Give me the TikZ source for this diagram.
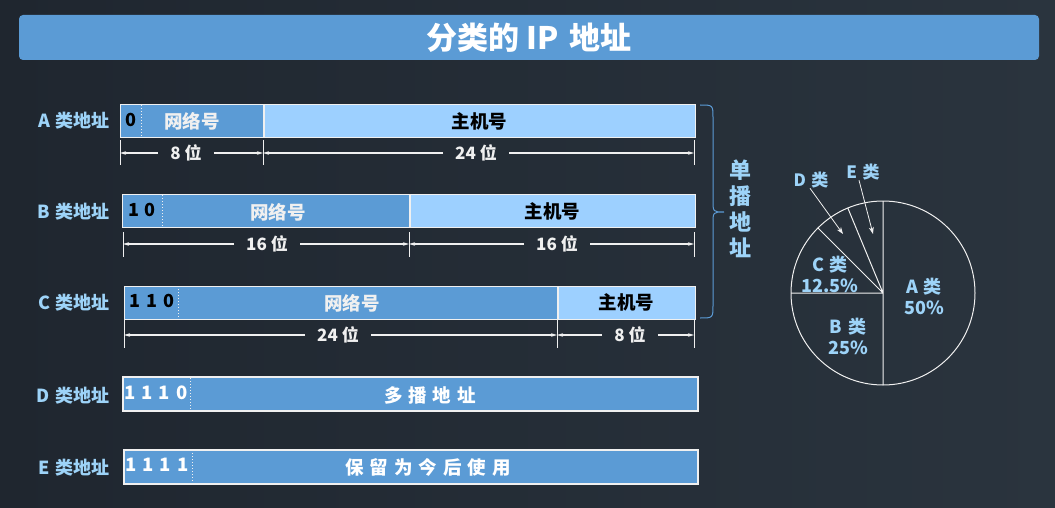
\documentclass[tikz,border=0pt]{standalone}
\usepackage{fontspec}
\setmainfont{Noto Sans CJK SC}
\usepackage{xcolor}
\usepackage{tikz}
\usetikzlibrary{arrows.meta,positioning,calc}
\definecolor{bgL}{HTML}{1F262F}
\definecolor{bgR}{HTML}{2A343E}
\definecolor{barM}{HTML}{5B9BD5}
\definecolor{barL}{HTML}{9DD0FF}
\definecolor{labB}{HTML}{9DD3F8}
\definecolor{inkW}{HTML}{F0F0F0}
\newcommand{\gap}{\hspace{0.32em}}
\tikzset{
  titlebar/.style={fill=barM, rounded corners=4pt, minimum width=1020,
                   minimum height=45, text=white, inner sep=0pt,
                   font=\bfseries\fontsize{31}{33}\selectfont},
  rowlab/.style={font=\bfseries\fontsize{18}{20}\selectfont, text=labB,
                 anchor=east, inner sep=0pt},
  netbox/.style={draw=inkW, line width=0.8pt, fill=barM, minimum height=33,
                 anchor=west, inner sep=0pt},
  hostbox/.style={netbox, fill=barL, text=black,
                  font=\bfseries\fontsize{18.5}{20}\selectfont},
  multbox/.style={netbox, line width=2pt, minimum height=34, text=white},
  nettext/.style={font=\bfseries\fontsize{18.5}{20}\selectfont, text=inkW,
                  inner sep=0pt},
  bitlab/.style={font=\bfseries\fontsize{18}{20}\selectfont, text=black,
                 inner sep=0pt},
  sep/.style={inkW, dotted, line width=1pt},
  tick/.style={inkW, line width=0.8pt},
  dim/.style={-{Stealth[length=6pt, width=3.5pt]}, inkW, line width=1.2pt},
  dimlab/.style={font=\bfseries\fontsize{17}{18}\selectfont, text=inkW,
                 inner xsep=12pt, inner ysep=0pt},
  pieline/.style={inkW, line width=1pt},
  pielab/.style={font=\bfseries\fontsize{18}{21}\selectfont, text=labB,
                 align=center, inner sep=0pt},
  pointer/.style={-{Stealth[length=7pt, width=5pt]}, inkW, line width=0.8pt},
}

\begin{document}
\begin{tikzpicture}[x=1pt, y=-1pt, node distance=0pt]
  % background
  \fill[left color=bgL, right color=bgR] (0,0) rectangle (1055,508);
  \useasboundingbox (0,0) rectangle (1055,508);
  \node[titlebar] (title) at (529,37.5) {分类的 IP\gap 地址};

  % class A
  \node[rowlab] (alab) at (110,121) {A\gap 类地址};
  \node[netbox, minimum width=143] (anet) at (120,121) {};
  \node[hostbox, right=of anet, minimum width=431] (ahost) {主机号};
  \node[bitlab] (abit) at (131,120) {0};
  \node[nettext] (atxt) at (192,121) {网络号};
  \draw[sep] (141,105) -- (141,137);
  \draw[tick] (120,140) -- (120,165) (263,140) -- (263,165) (694,140) -- (694,165);
  \coordinate (a0) at (120,153);
  \coordinate (a1) at (263,153);
  \coordinate (a2) at (694,153);
  \node[dimlab] (adl) at (186,153) {8 位};
  \node[dimlab] (adr) at (476,153) {24 位};
  \draw[dim] (adl.west) -- (a0);
  \draw[dim] (adl.east) -- (a1);
  \draw[dim] (adr.west) -- (a1);
  \draw[dim] (adr.east) -- (a2);

  % class B
  \node[rowlab] (blab) at (110,212) {B\gap 类地址};
  \node[netbox, minimum width=287] (bnet) at (122,211) {};
  \node[hostbox, right=of bnet, minimum width=285] (bhost) {主机号};
  \node[bitlab] (bbit) at (142,210) {1\gap 0};
  \node[nettext] (btxt) at (278,212) {网络号};
  \draw[sep] (162,195) -- (162,227);
  \draw[tick] (123,232) -- (123,257) (409,232) -- (409,257) (694,232) -- (694,257);
  \coordinate (b0) at (123,244);
  \coordinate (b1) at (409,244);
  \coordinate (b2) at (694,244);
  \node[dimlab] (bdl) at (267,244) {16 位};
  \node[dimlab] (bdr) at (557,244) {16 位};
  \draw[dim] (bdl.west) -- (b0);
  \draw[dim] (bdl.east) -- (b1);
  \draw[dim] (bdr.west) -- (b1);
  \draw[dim] (bdr.east) -- (b2);

  % class C
  \node[rowlab] (clab) at (110,303) {C\gap 类地址};
  \node[netbox, minimum width=433] (cnet) at (124,302.5) {};
  \node[hostbox, right=of cnet, minimum width=137] (chost) {主机号};
  \node[bitlab] (cbit) at (152,301) {1\gap 1\gap 0};
  \node[nettext] (ctxt) at (352,303) {网络号};
  \draw[sep] (178,286) -- (178,319);
  \draw[tick] (124,320) -- (124,348) (557,320) -- (557,348) (694,320) -- (694,348);
  \coordinate (c0) at (124,335);
  \coordinate (c1) at (557,335);
  \coordinate (c2) at (694,335);
  \node[dimlab] (cdl) at (338,335) {24 位};
  \node[dimlab] (cdr) at (630,335) {8 位};
  \draw[dim] (cdl.west) -- (c0);
  \draw[dim] (cdl.east) -- (c1);
  \draw[dim] (cdr.west) -- (c1);
  \draw[dim] (cdr.east) -- (c2);

  % class D and E
  \node[rowlab] (dlab) at (110,396) {D\gap 类地址};
  \node[multbox, minimum width=575] (dbar) at (122,394) {};
  \node[nettext, text=white] (dbit) at (156,393) {1\gap1\gap1\gap0};
  \node[nettext, text=white] (dtxt) at (430,395) {多\gap 播\gap 地\gap 址};
  \draw[sep] (190,378) -- (190,410);
  \node[rowlab] (elab) at (110,468) {E\gap 类地址};
  \node[multbox, minimum width=574] (ebar) at (123,466.5) {};
  \node[nettext, text=white] (ebit) at (157,465) {1\gap1\gap1\gap1};
  \node[nettext, text=white] (etxt) at (428,467) {保\gap 留\gap 为\gap 今\gap 后\gap 使\gap 用};
  \draw[sep] (192,450) -- (192,483);

  % unicast brace
  \draw[barM, line width=1pt] (700,105) .. controls (713,105) .. (713,118) -- (713,200)
    .. controls (713,212) .. (724,212) .. controls (713,212) .. (713,224)
    -- (713,305) .. controls (713,318) .. (700,318);
  \node[pielab, font=\bfseries\fontsize{22}{26}\selectfont] (uni) at (740,209)
    {单\\播\\地\\址};

  % share of the address space
  \coordinate (pc) at (883,293);
  \draw[pieline] (pc) circle[radius=92];
  \draw[pieline] (pc) -- ++(0,-92) (pc) -- ++(-92,0) (pc) -- ++(0,92)
    (pc) -- ++(-135:92) (pc) -- ++(-112.5:92);
  \node[pielab] (pa) at (924,296) {A\gap 类\\50\%};
  \node[pielab] (pb) at (848,336) {B\gap 类\\25\%};
  \node[pielab] (pcl) at (830,274) {C\gap 类\\12.5\%};
  \node[pielab, font=\bfseries\fontsize{17}{20}\selectfont] (pd) at (811,180) {D\gap 类};
  \node[pielab, font=\bfseries\fontsize{17}{20}\selectfont] (pe) at (863,172) {E\gap 类};
  \coordinate (dtip) at (843,234);
  \coordinate (etip) at (873,234);
  \draw[pointer] ([xshift=-1]pd.south) -- (dtip);
  \draw[pointer] ([xshift=-4]pe.south) -- (etip);
\end{tikzpicture}
\end{document}
